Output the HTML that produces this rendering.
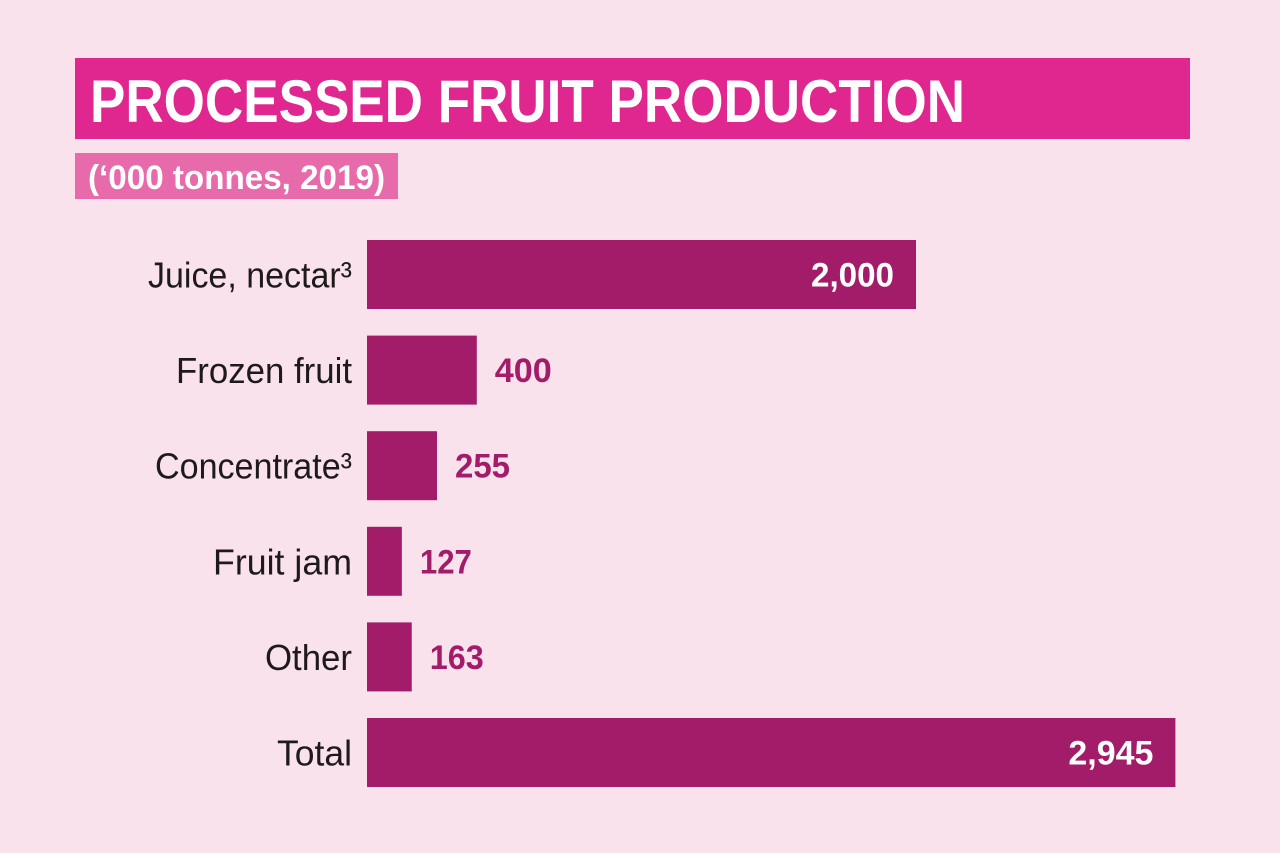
<!DOCTYPE html>
<html><head><meta charset="utf-8"><style>
html,body{margin:0;padding:0;background:#f9e2ec;}
svg{display:block;}
text{font-family:"Liberation Sans",sans-serif;}
</style></head><body>
<svg id="chart" width="1280" height="853" viewBox="0 0 1280 853">
<rect x="0" y="0" width="1280" height="853" fill="#f9e2ec"/>
<rect x="75" y="58" width="1115" height="81" fill="#e0278f"/>
<text x="90" y="122" font-size="60" font-weight="bold" fill="#fff" textLength="875" lengthAdjust="spacingAndGlyphs">PROCESSED FRUIT PRODUCTION</text>
<rect x="75" y="153" width="323" height="46" fill="#e76aab"/>
<text x="88" y="189" font-size="34" font-weight="bold" fill="#fff" textLength="297" lengthAdjust="spacingAndGlyphs">(‘000 tonnes, 2019)</text>
<g id="bars"></g>
</svg>
<script>
const categories=["Juice, nectar³","Frozen fruit","Concentrate³","Fruit jam","Other","Total"];
const values=[2000,400,255,127,163,2945];
const valueLabels=["2,000","400","255","127","163","2,945"];
const x0=367, scale=549/2000, top0=240, pitch=95.6, barH=69;
const xs=v=>x0+v*scale;
const g=document.getElementById('bars');
const NS="http://www.w3.org/2000/svg";
const labelW=[204,176,197,139,87,75];
const valueW=[83,57,55,52,54,85];
categories.forEach((c,i)=>{
  const y=top0+i*pitch;
  const r=document.createElementNS(NS,'rect');
  r.setAttribute('x',x0);r.setAttribute('y',y);
  r.setAttribute('width',xs(values[i])-x0);r.setAttribute('height',barH);
  r.setAttribute('fill','#a21c69');
  
  
  g.appendChild(r);
  const t=document.createElementNS(NS,'text');
  t.setAttribute('x',352);t.setAttribute('y',y+barH/2+13);
  t.setAttribute('text-anchor','end');t.setAttribute('font-size','36');
  t.setAttribute('fill','#1e1a1c');
  t.setAttribute('textLength',labelW[i]);t.setAttribute('lengthAdjust','spacingAndGlyphs');
  t.textContent=c;
  
  
  g.appendChild(t);
  const inside=values[i]>1000;
  const v=document.createElementNS(NS,'text');
  const end=xs(values[i]);
  v.setAttribute('y',y+barH/2+12);
  v.setAttribute('font-size','34');v.setAttribute('font-weight','bold');
  if(inside){v.setAttribute('x',end-22-valueW[i]);v.setAttribute('fill','#fff');}
  else{v.setAttribute('x',end+18);v.setAttribute('fill','#a21c69');}
  v.setAttribute('textLength',valueW[i]);v.setAttribute('lengthAdjust','spacingAndGlyphs');
  v.textContent=valueLabels[i];
  
  
  g.appendChild(v);
});
</script>
</body></html>
